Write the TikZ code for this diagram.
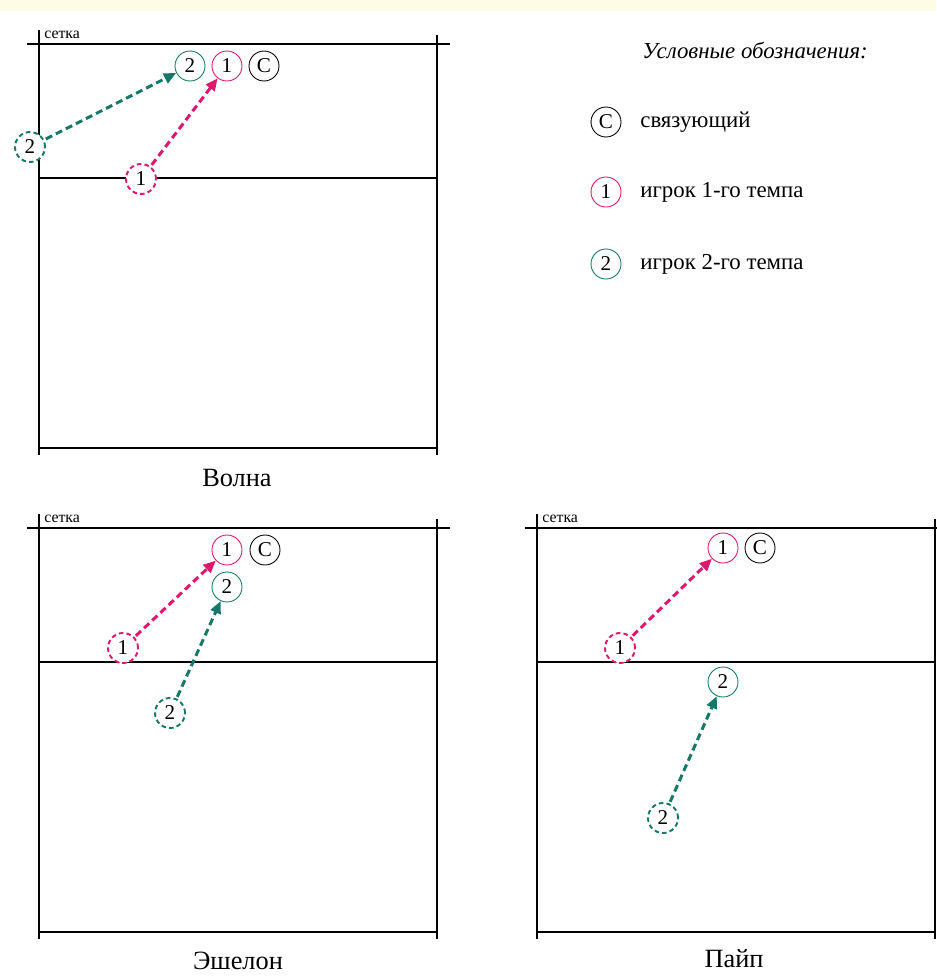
\documentclass[tikz,border=0pt]{standalone}
\usepackage{fontspec}
\setmainfont{Liberation Serif}
\usetikzlibrary{arrows.meta}

\definecolor{tempone}{RGB}{222,24,110}
\definecolor{temptwo}{RGB}{22,120,104}
\definecolor{topstrip}{RGB}{255,252,230}

\tikzset{
  player/.style={circle, draw, fill=white, line width=0.5pt, minimum size=0.6cm, inner sep=0pt,
    font=\fontsize{12}{12}\selectfont},
  startpos/.style={player, line width=1.1pt, dash pattern=on 2.6pt off 1.8pt},
  run/.style={line width=1.7pt, dash pattern=on 4pt off 2.4pt, shorten <=1pt,
    -{Triangle[length=7pt,width=6pt]}},
  caption/.style={font=\fontsize{15}{15}\selectfont},
  legend/.style={anchor=west, inner sep=0pt, font=\fontsize{13}{13}\selectfont},
  pics/court/.style={code={
    \draw[line width=1pt] (-12,0) -- (411,0);
    \draw[line width=1pt] (0,-14) -- (0,411);
    \draw[line width=1pt] (398,-9) -- (398,411);
    \draw[line width=1pt] (0,134) -- (398,134);
    \draw[line width=1.4pt] (0,404) -- (398,404);
  }}
}

\begin{document}
\begin{tikzpicture}[x=0.02cm, y=-0.02cm]
\useasboundingbox (0,0) rectangle (936,976);
\fill[white] (0,0) rectangle (936,976);
\fill[topstrip] (0,0) rectangle (936,11);

% courts
\pic at (39,44) {court};
\pic at (39,528) {court};
\pic at (537,528) {court};

\node[anchor=south west, inner sep=0pt, font=\fontsize{9}{9}\selectfont] (net1) at (44,39) {сетка};
\node[anchor=south west, inner sep=0pt, font=\fontsize{9}{9}\selectfont] (net2) at (44,523) {сетка};
\node[anchor=south west, inner sep=0pt, font=\fontsize{9}{9}\selectfont] (net3) at (542,523) {сетка};

\node[caption] (wave) at (237,478) {Волна};
\node[caption] (echelon) at (238,961) {Эшелон};
\node[caption] (pipe) at (734,959) {Пайп};

% Волна
\node[player, draw=temptwo] (w2e) at (190,66) {2};
\node[player, draw=tempone] (w1e) at (227,66) {1};
\node[player] (wc) at (264,66) {С};
\node[startpos, draw=temptwo] (w2s) at (30,147) {2};
\node[startpos, draw=tempone] (w1s) at (141,179) {1};
\draw[run, temptwo] (w2s) -- (w2e);
\draw[run, tempone] (w1s) -- (w1e);

% Эшелон
\node[player, draw=tempone] (e1e) at (227,550) {1};
\node[player] (ec) at (265,550) {С};
\node[player, draw=temptwo] (e2e) at (227,587) {2};
\node[startpos, draw=tempone] (e1s) at (123,648) {1};
\node[startpos, draw=temptwo] (e2s) at (170,713) {2};
\draw[run, tempone] (e1s) -- (e1e);
\draw[run, temptwo] (e2s) -- (e2e);

% Пайп
\node[player, draw=tempone] (p1e) at (723,548) {1};
\node[player] (pc) at (760,548) {С};
\node[player, draw=temptwo] (p2e) at (723,682) {2};
\node[startpos, draw=tempone] (p1s) at (620,648) {1};
\node[startpos, draw=temptwo] (p2s) at (663,818) {2};
\draw[run, tempone] (p1s) -- (p1e);
\draw[run, temptwo] (p2s) -- (p2e);

% legend
\node[legend, font=\fontsize{13}{13}\selectfont\itshape] (ltitle) at (642,50) {Условные обозначения:};
\node[player] (lc) at (606,122) {С};
\node[legend] (lctext) at (640,122) {связующий};
\node[player, draw=tempone] (l1) at (606,192) {1};
\node[legend] (l1text) at (640,192) {игрок 1-го темпа};
\node[player, draw=temptwo] (l2) at (606,264) {2};
\node[legend] (l2text) at (640,264) {игрок 2-го темпа};
\end{tikzpicture}
\end{document}
